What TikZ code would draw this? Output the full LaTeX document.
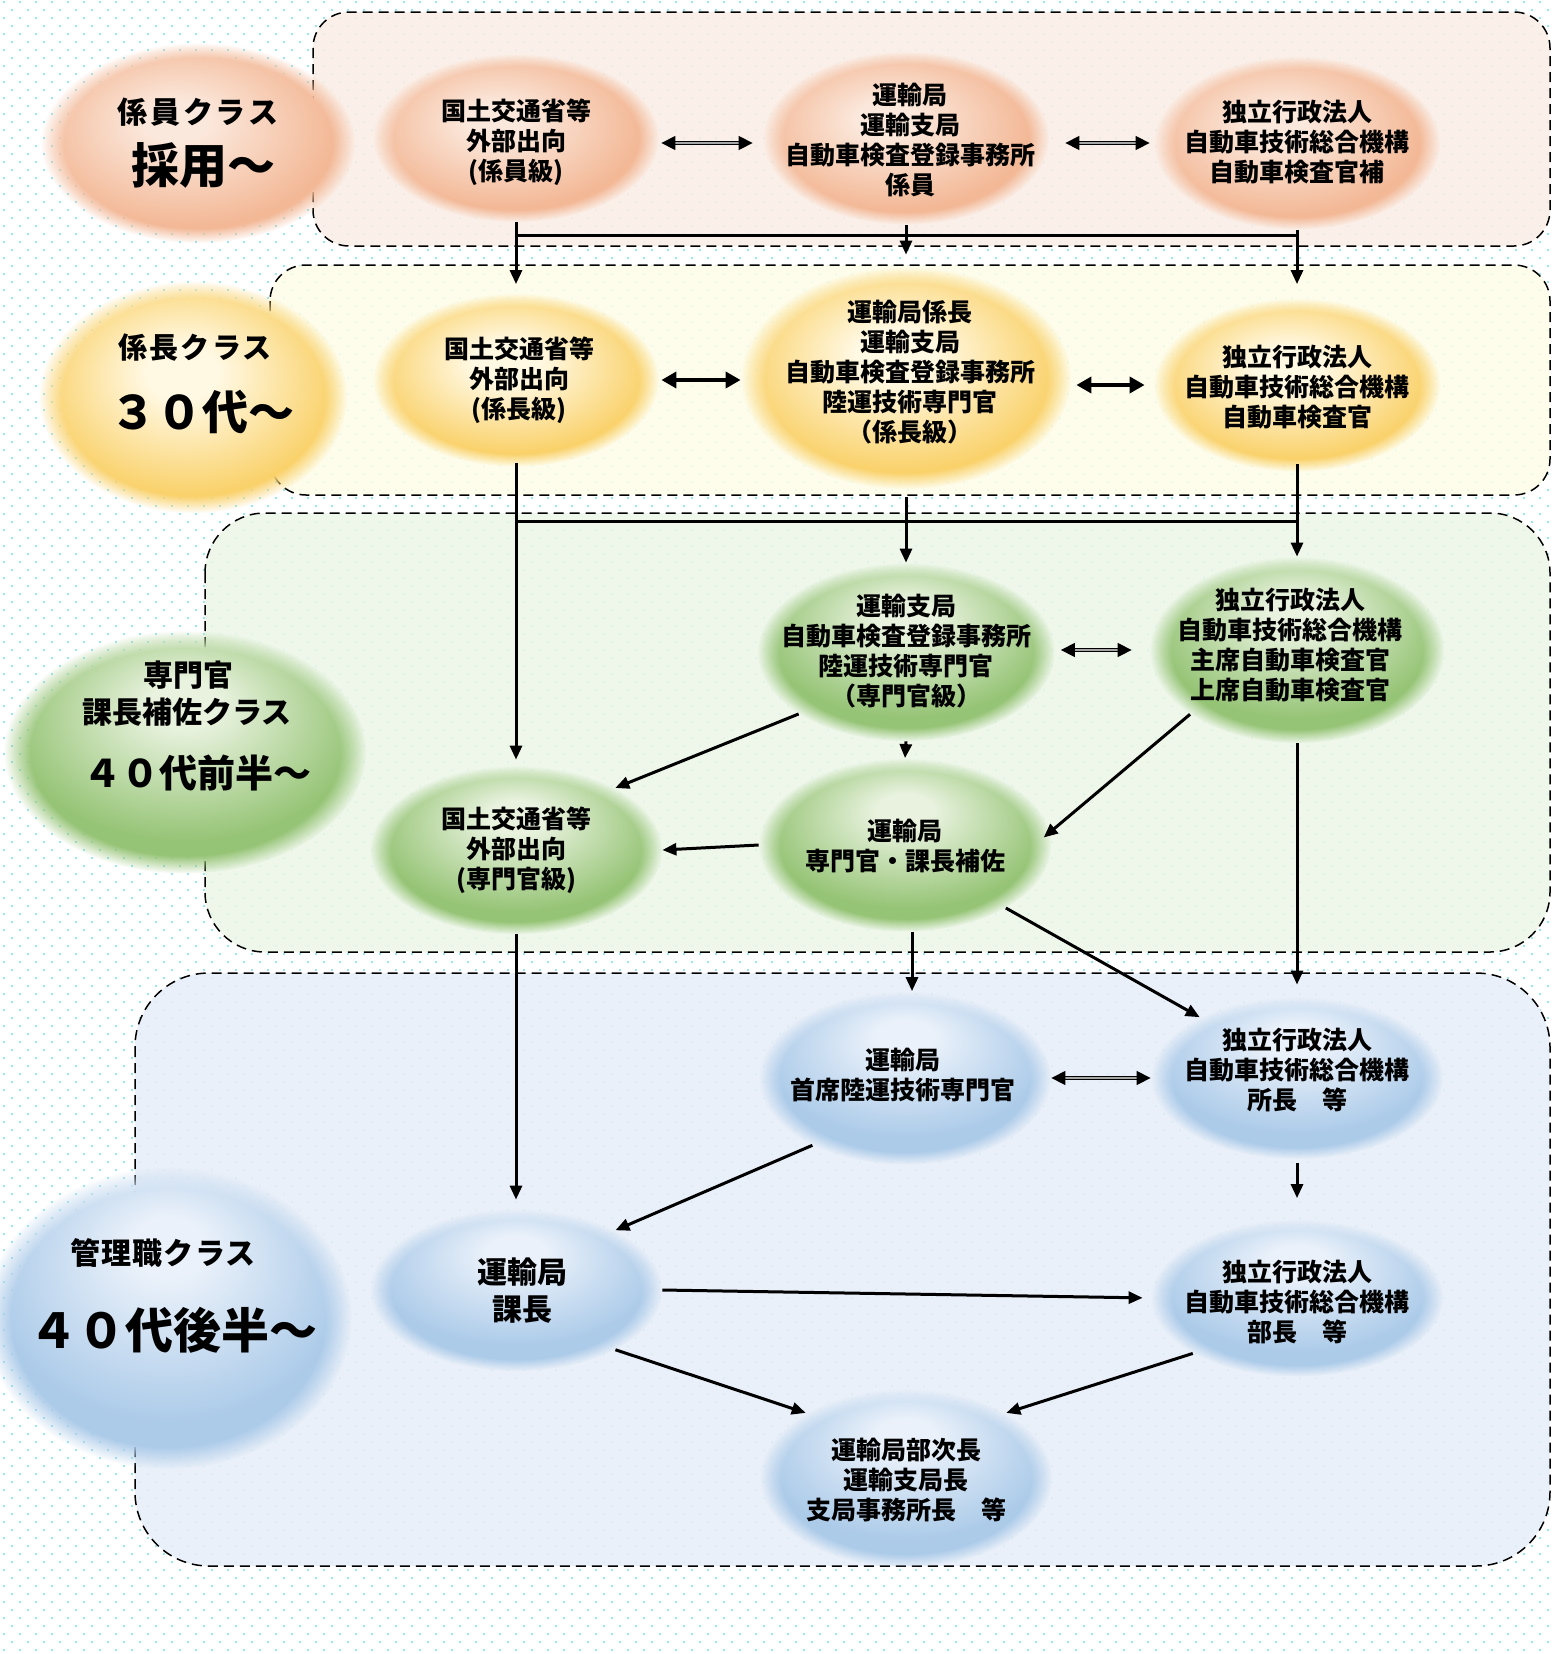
\documentclass[tikz,border=0pt]{standalone}
\usepackage{fontspec}
\setmainfont{Noto Sans CJK JP}
\usetikzlibrary{shapes.geometric,arrows.meta,fadings,patterns}

\definecolor{dotc}{RGB}{120,222,232}
\definecolor{boxOr}{RGB}{251,238,230}
\definecolor{boxYe}{RGB}{254,253,232}
\definecolor{boxGr}{RGB}{236,246,231}
\definecolor{boxBl}{RGB}{231,238,248}
\definecolor{or1}{RGB}{251,232,220}
\definecolor{or2}{RGB}{243,184,150}
\definecolor{ye1}{RGB}{255,248,226}
\definecolor{ye2}{RGB}{250,210,108}
\definecolor{gr1}{RGB}{232,242,222}
\definecolor{gr2}{RGB}{150,196,118}
\definecolor{bl1}{RGB}{234,241,250}
\definecolor{bl2}{RGB}{172,203,233}

\pgfdeclarepatternformonly{bgdots}{\pgfpoint{-1pt}{-1pt}}{\pgfpoint{9pt}{9pt}}{\pgfpoint{8pt}{8pt}}{%
  \pgfpathcircle{\pgfpoint{2pt}{2pt}}{0.6pt}%
  \pgfpathcircle{\pgfpoint{6pt}{6pt}}{0.6pt}%
  \pgfusepath{fill}}

\pgfdeclareradialshading{shOr}{\pgfpoint{-4bp}{6bp}}{color(0bp)=(or1); color(5bp)=(or1); color(24bp)=(or2); color(50bp)=(or2)}
\pgfdeclareradialshading{shYe}{\pgfpoint{-2bp}{6bp}}{color(0bp)=(ye1); color(6bp)=(ye1); color(24bp)=(ye2); color(50bp)=(ye2)}
\pgfdeclareradialshading{shGr}{\pgfpoint{0bp}{11bp}}{color(0bp)=(gr1); color(5bp)=(gr1); color(24bp)=(gr2); color(50bp)=(gr2)}
\pgfdeclareradialshading{shBl}{\pgfpoint{0bp}{13bp}}{color(0bp)=(bl1); color(5bp)=(bl1); color(24bp)=(bl2); color(50bp)=(bl2)}

\tikzset{
  blob/.style={ellipse, draw=none, inner sep=0pt, shade, path fading=circle with fuzzy edge 15 percent},
  orblob/.style={blob, shading=shOr},
  yeblob/.style={blob, shading=shYe},
  grblob/.style={blob, shading=shGr},
  blblob/.style={blob, shading=shBl},
  txt/.style={font=\bfseries\fontsize{12.5}{15}\selectfont, align=center, inner sep=0pt},
  bigtxt/.style={font=\bfseries\fontsize{15}{18.5}\selectfont, align=center, inner sep=0pt},
  cls/.style={font=\bfseries\fontsize{#1}{#1}\selectfont, inner sep=0pt},
  zone/.style={draw=black, line width=0.75pt, dash pattern=on 5pt off 3pt},
  ln/.style={line width=1.5pt},
  arr/.style={line width=1.5pt, -{Triangle[length=7pt,width=6pt]}},
  dbl/.style={line width=0.7pt, double=gray!70, double distance=0.6pt, {Triangle[length=7pt,width=7pt]}-{Triangle[length=7pt,width=7pt]}},
  dblthick/.style={line width=2pt, {Triangle[length=7.5pt,width=8pt]}-{Triangle[length=7.5pt,width=8pt]}}
}

\begin{document}
\begin{tikzpicture}[x=0.5pt,y=-0.5pt]
\useasboundingbox (0,0) rectangle (1554,1654);
\clip (0,0) rectangle (1554,1654);
\fill[white] (0,0) rectangle (1554,1654);
\fill[pattern=bgdots, pattern color=dotc] (0,0) rectangle (1554,1654);

% zones
\path[zone, fill=boxOr, fill opacity=0.85, rounded corners=18pt] (313,12) rectangle (1550,246);
\path[zone, fill=boxYe, fill opacity=0.85, rounded corners=18pt] (270,265) rectangle (1550,495);
\path[zone, fill=boxGr, fill opacity=0.85, rounded corners=30pt] (205,513) rectangle (1550,952);
\path[zone, fill=boxBl, fill opacity=0.85, rounded corners=37pt] (135,973) rectangle (1550,1566);

% class blobs
\node[orblob, minimum width=157pt, minimum height=100pt] (K1) at (198,143) {};
\node[yeblob, minimum width=154pt, minimum height=116pt] (K2) at (193,397) {};
\node[grblob, minimum width=181pt, minimum height=121.5pt] (K3) at (185,752) {};
\node[blblob, minimum width=183.5pt, minimum height=151pt] (K4) at (168,1318) {};

% row 1
\node[orblob, minimum width=143pt, minimum height=84pt] (A1) at (516,138) {};
\node[orblob, minimum width=143pt, minimum height=86.5pt] (A2) at (906,138) {};
\node[orblob, minimum width=143pt, minimum height=86.5pt] (A3) at (1297,143) {};
% row 2
\node[yeblob, minimum width=143pt, minimum height=86.5pt] (B1) at (516,380) {};
\node[yeblob, minimum width=165pt, minimum height=111pt] (B2) at (906,378) {};
\node[yeblob, minimum width=143pt, minimum height=86.5pt] (B3) at (1297,385) {};
% row 3
\node[grblob, minimum width=148.5pt, minimum height=89pt] (C1) at (906,652) {};
\node[grblob, minimum width=147pt, minimum height=93pt] (C2) at (1297,650) {};
\node[grblob, minimum width=146pt, minimum height=84pt] (C3) at (516,850) {};
\node[grblob, minimum width=146pt, minimum height=86.5pt] (C4) at (905,845) {};
% row 4
\node[blblob, minimum width=146pt, minimum height=86.5pt] (D1) at (905,1078) {};
\node[blblob, minimum width=146pt, minimum height=81pt] (D2) at (1297,1078) {};
\node[blblob, minimum width=146pt, minimum height=81pt] (E1) at (516,1290) {};
\node[blblob, minimum width=146pt, minimum height=78.5pt] (E2) at (1297,1298) {};
\node[blblob, minimum width=146pt, minimum height=89pt] (F) at (906,1478) {};

% class texts
\node[cls=15] (K1a) at (198,112) {\addfontfeature{LetterSpace=9}係員クラス};
\node[cls=24] (K1b) at (203,165) {採用～};
\node[cls=14.5] (K2a) at (195,348) {\addfontfeature{LetterSpace=8}係長クラス};
\node[cls=23] (K2b) at (202,412) {３０代～};
\node[cls=15] (K3a) at (188,675) {専門官};
\node[cls=15] (K3b) at (187,712) {課長補佐クラス};
\node[cls=19] (K3c) at (197,773) {４０代前半～};
\node[cls=15] (K4a) at (163,1253) {\addfontfeature{LetterSpace=4}管理職クラス};
\node[cls=24] (K4b) at (173,1330) {４０代後半～};

% node texts
\node[txt] (A1t) at (516,142) {国土交通省等\\外部出向\\(係員級)};
\node[txt] (A2t) at (910,140) {運輸局\\運輸支局\\自動車検査登録事務所\\係員};
\node[txt] (A3t) at (1297,142) {独立行政法人\\自動車技術総合機構\\自動車検査官補};
\node[txt] (B1t) at (519,380) {国土交通省等\\外部出向\\(係長級)};
\node[txt] (B2t) at (910,372) {運輸局係長\\運輸支局\\自動車検査登録事務所\\陸運技術専門官\\（係長級）};
\node[txt] (B3t) at (1297,387) {独立行政法人\\自動車技術総合機構\\自動車検査官};
\node[txt] (C1t) at (906,651) {運輸支局\\自動車検査登録事務所\\陸運技術専門官\\（専門官級）};
\node[txt] (C2t) at (1290,645) {独立行政法人\\自動車技術総合機構\\主席自動車検査官\\上席自動車検査官};
\node[txt] (C3t) at (516,850) {国土交通省等\\外部出向\\(専門官級)};
\node[txt] (C4t) at (905,846) {運輸局\\専門官・課長補佐};
\node[txt] (D1t) at (903,1075) {運輸局\\首席陸運技術専門官};
\node[txt] (D2t) at (1297,1070) {独立行政法人\\自動車技術総合機構\\所長　等};
\node[bigtxt] (E1t) at (522,1291) {運輸局\\課長};
\node[txt] (E2t) at (1297,1302) {独立行政法人\\自動車技術総合機構\\部長　等};
\node[txt] (Ft) at (906,1480) {運輸局部次長\\運輸支局長\\支局事務所長　等};

% row 1 connectors
\draw[dbl, shorten <=1pt, shorten >=5pt] (A1.east |- A3.west) -- (A2.west |- A3.west);
\draw[dbl, shorten <=8pt, shorten >=2pt] (A2.east |- A3.west) -- (A3.west);
\coordinate (r1l) at (516,235);
\coordinate (r1r) at (1297,235);
\draw[ln] (r1l) -- (r1r);
\draw[arr, shorten >=4.5pt] (A1.south) -- (B1.north);
\draw[arr, shorten >=6pt] (A2.south) -- (B2.north);
\draw[arr, shorten >=7pt] (A3.south) -- (B3.north);

% row 2 connectors
\draw[dblthick, shorten <=1pt] (B1.east) -- (B1.east -| B2.west);
\draw[dblthick, shorten <=2.5pt, shorten >=4.5pt] (B2.east |- B3.west) -- (B3.west);
\coordinate (r2l) at (516,521);
\coordinate (r2r) at (1297,521);
\draw[ln] (r2l) -- (r2r);
\draw[arr, shorten <=-2pt, shorten >=3pt] (B1.south) -- (C3.north);
\draw[arr, shorten <=4pt] (B2.south) -- (C1.north);
\draw[arr, shorten <=-4pt] (B3.south) -- (C2.north);

% row 3 connectors
\draw[dbl, shorten <=3pt, shorten >=9pt] (C1.east |- C2.west) -- (C2.west);
\draw[arr] (C1.210) -- (C3.32);
\draw[arr] (C1.south) -- (C4.north);
\draw[arr, shorten >=-4pt] (C2.211) -- (C4.5);
\draw[arr] (C4.west) -- (C3.east);
\draw[arr, shorten >=6pt] (C2.south) -- (D2.north);
\draw[arr] ([xshift=3.5pt]C4.south) -- ([xshift=3.5pt]D1.north);
\draw[arr] (C4.-32) -- (D2.148);
\draw[arr, shorten >=4.5pt] (C3.south) -- (E1.north);

% row 4 connectors
\draw[dbl] (D1.east) -- (D2.west);
\draw[arr] (D1.216) -- (E1.31);
\draw[arr, shorten <=2pt, shorten >=10.5pt] (D2.south) -- (E2.north);
\draw[arr, shorten >=4pt] (E1.east) -- (E2.west);
\draw[arr] (E1.-31) -- (F.147);
\draw[arr] (E2.208) -- (F.33);
\end{tikzpicture}
\end{document}
